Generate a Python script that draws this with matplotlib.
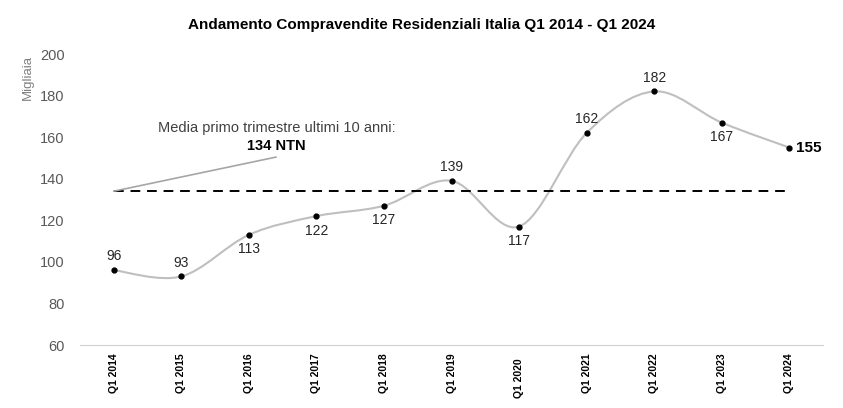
import numpy as np
import matplotlib
matplotlib.use("Agg")
from matplotlib import pyplot as plt
from matplotlib.path import Path
from matplotlib.patches import PathPatch
import matplotlib.transforms as mtransforms

plt.rcParams['font.family'] = ['Liberation Sans', 'DejaVu Sans']

labels = ["Q1 2014", "Q1 2015", "Q1 2016", "Q1 2017", "Q1 2018", "Q1 2019",
          "Q1 2020", "Q1 2021", "Q1 2022", "Q1 2023", "Q1 2024"]
values = [96, 93, 113, 122, 127, 139, 117, 162, 182, 167, 155]
label_pos = ["above", "above", "below", "below", "below", "above",
             "below", "above", "above", "below", "right"]
media = 134

x = np.arange(len(values))
y = np.array(values, dtype=float)

fig = plt.figure(figsize=(8.43, 4.08), dpi=100)
ax = fig.add_axes([0.0949, 0.1544, 0.8814, 0.7132])

# smoothed line like Excel (Catmull-Rom through the points as cubic Bezier)
verts = [(x[0], y[0])]
codes = [Path.MOVETO]
n = len(x)
for i in range(n - 1):
    p0 = np.array([x[max(i - 1, 0)], y[max(i - 1, 0)]])
    p1 = np.array([x[i], y[i]])
    p2 = np.array([x[i + 1], y[i + 1]])
    p3 = np.array([x[min(i + 2, n - 1)], y[min(i + 2, n - 1)]])
    c1 = p1 + (p2 - p0) / 6
    c2 = p2 - (p3 - p1) / 6
    verts += [tuple(c1), tuple(c2), tuple(p2)]
    codes += [Path.CURVE4] * 3
ax.add_patch(PathPatch(Path(verts, codes), facecolor='none', edgecolor='#BFBFBF', lw=1.5))
ax.plot(x, y, 'o', color='black', ms=3.5, zorder=3)

ax.plot([x[0], x[-1]], [media, media], color='black', lw=1.4, ls=(0, (5, 3.5)))

for xi, yi, pos in zip(x, values, label_pos):
    if pos == "above":
        ax.annotate(str(yi), (xi, yi), xytext=(0, 10), textcoords='offset points',
                    ha='center', va='center', fontsize=10, color='#262626')
    elif pos == "below":
        ax.annotate(str(yi), (xi, yi), xytext=(0, -10.5), textcoords='offset points',
                    ha='center', va='center', fontsize=10, color='#262626')
    else:
        ax.annotate(str(yi), (xi, yi), xytext=(5, 0), textcoords='offset points',
                    ha='left', va='center', fontsize=11, fontweight='bold', color='black')

# callout for the average
ax.plot([0, 2.4], [media, 150.4], color='#A6A6A6', lw=1.2)
ax.text(2.41, 164.4, "Media primo trimestre ultimi 10 anni:", ha='center', va='center',
        fontsize=10.5, color='#404040')
ax.text(2.41, 155.7, "134 NTN", ha='center', va='center', fontsize=10.5,
        fontweight='bold', color='black')

ax.set_xlim(-0.5, len(values) - 0.5)
ax.set_ylim(60, 200)
ax.set_yticks(np.arange(60, 201, 20))
ax.set_xticks(x)
ax.set_xticklabels(labels, rotation=90, fontsize=7.5, fontweight='bold', color='black')
ax.tick_params(axis='x', length=0, pad=6)
ax.tick_params(axis='y', length=0, labelsize=10.5, labelcolor='#595959', pad=11)
# the Q1 2020 label sits a bit lower in the original
shifted = ax.get_xticklabels()[6]
shifted.set_transform(shifted.get_transform() +
                      mtransforms.ScaledTranslation(0, -5 / 100, fig.dpi_scale_trans))
for s in ['top', 'right', 'left']:
    ax.spines[s].set_visible(False)
ax.spines['bottom'].set_color('#D0D0D0')
ax.set_ylabel("Migliaia", fontsize=9.5, color='#7F7F7F')
ax.yaxis.set_label_coords(-0.062, 0.92)

fig.suptitle("Andamento Compravendite Residenziali Italia Q1 2014 - Q1 2024",
             x=0.5, y=0.955, fontsize=11, fontweight='bold')

fig.savefig("out.png", dpi=100)
